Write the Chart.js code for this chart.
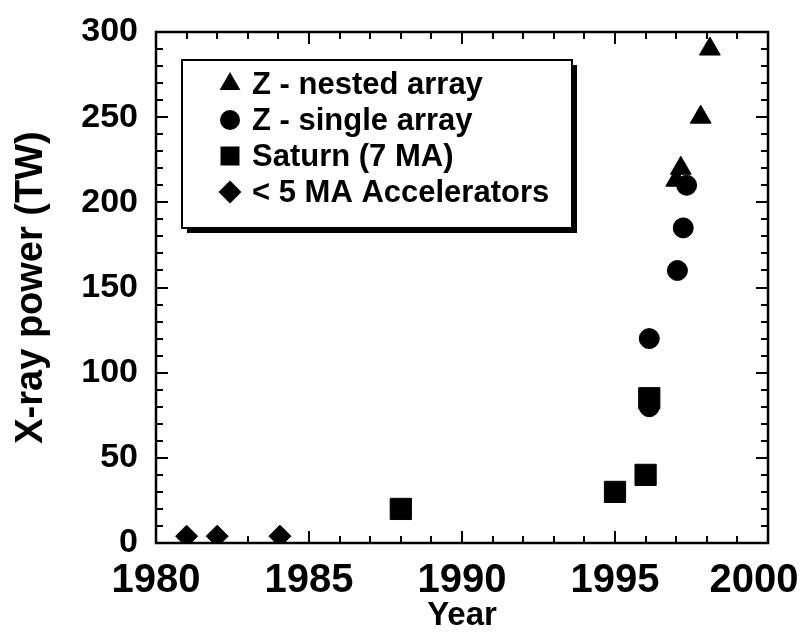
<!DOCTYPE html>
<html><head><meta charset="utf-8">
<style>html,body{margin:0;padding:0;background:#fff;}#wrap{width:800px;height:632px;position:relative;}</style>
<script src="https://cdn.jsdelivr.net/npm/chart.js@4.4.1/dist/chart.umd.min.js"></script>
</head><body><div id="wrap"><canvas id="c" width="800" height="632"></canvas></div>
<script>
const seriesNames = ['Z - nested array', 'Z - single array', 'Saturn (7 MA)', '< 5 MA Accelerators'];
const nestedYears = [1997.0, 1997.15, 1997.8, 1998.1];
const nestedPower = [213, 220, 250, 290];
const singleYears = [1996.12, 1996.12, 1997.04, 1997.23, 1997.34];
const singlePower = [80, 120, 160, 185, 210];
const saturnYears = [1988.0, 1995.0, 1996.0, 1996.12];
const saturnPower = [20, 30, 40, 85];
const smallYears = [1981.0, 1982.0, 1984.05];
const smallPower = [4, 4, 4];
const xTickValues = [1980, 1985, 1990, 1995, 2000];
const yTickValues = [0, 50, 100, 150, 200, 250, 300];

const FONT = "'Liberation Sans', Arial, Helvetica, sans-serif";
const toPts = (xs, ys) => xs.map((x, i) => ({x: x, y: ys[i]}));

const styles = [
  {pointStyle: 'triangle', radius: 12, legendRadius: 10},
  {pointStyle: 'circle', radius: 10, legendRadius: 9},
  {pointStyle: 'rect', radius: 15, legendRadius: 12},
  {pointStyle: 'rectRot', radius: 11, legendRadius: 10}
];
const seriesData = [
  toPts(nestedYears, nestedPower),
  toPts(singleYears, singlePower),
  toPts(saturnYears, saturnPower),
  toPts(smallYears, smallPower)
];

const datasets = seriesNames.map((name, i) => ({
  label: name,
  data: seriesData[i],
  pointStyle: styles[i].pointStyle,
  pointRadius: styles[i].radius,
  pointHoverRadius: styles[i].radius,
  backgroundColor: '#000',
  borderColor: '#000',
  borderWidth: 1,
  showLine: false,
  order: i
}));

const framePlugin = {
  id: 'frameTicks',
  beforeDatasetsDraw(chart) {
    const {ctx, chartArea: a, scales} = chart;
    const xs = scales.x, ys = scales.y;
    ctx.save();
    ctx.strokeStyle = '#000';
    ctx.lineWidth = 2.5;
    ctx.strokeRect(a.left, a.top, a.right - a.left, a.bottom - a.top);
    ctx.lineWidth = 2;
    ctx.beginPath();
    for (let yr = xs.min; yr <= xs.max; yr += 1) {
      const px = Math.round(xs.getPixelForValue(yr));
      const len = (yr % 5 === 0) ? 12 : 7;
      ctx.moveTo(px, a.bottom); ctx.lineTo(px, a.bottom - len);
      ctx.moveTo(px, a.top); ctx.lineTo(px, a.top + len);
    }
    for (let v = ys.min; v <= ys.max; v += 10) {
      const py = Math.round(ys.getPixelForValue(v));
      const len = (v % 50 === 0) ? 12 : 7;
      ctx.moveTo(a.left, py); ctx.lineTo(a.left + len, py);
      ctx.moveTo(a.right, py); ctx.lineTo(a.right - len, py);
    }
    ctx.stroke();
    ctx.restore();
  }
};

const legendPlugin = {
  id: 'boxLegend',
  afterDraw(chart) {
    const ctx = chart.ctx;
    const bx = 182, by = 60, bw = 390, bh = 168, sh = 5;
    ctx.save();
    ctx.fillStyle = '#000';
    ctx.fillRect(bx + sh, by + sh, bw, bh);
    ctx.fillStyle = '#fff';
    ctx.fillRect(bx, by, bw, bh);
    ctx.strokeStyle = '#000';
    ctx.lineWidth = 2;
    ctx.strokeRect(bx, by, bw, bh);
    ctx.font = "bold 31px " + FONT;
    ctx.textBaseline = 'middle';
    ctx.textAlign = 'left';
    chart.data.datasets.forEach((ds, i) => {
      const cy = 84 + i * 36;
      ctx.fillStyle = '#000';
      ctx.strokeStyle = '#000';
      Chart.helpers.drawPoint(ctx, {pointStyle: ds.pointStyle, radius: styles[i].legendRadius, rotation: 0, borderWidth: 1}, 230, cy);
      ctx.fillStyle = '#000';
      ctx.fillText(ds.label, 252, cy + 1);
    });
    ctx.restore();
  }
};

new Chart(document.getElementById('c'), {
  type: 'scatter',
  data: {datasets: datasets},
  plugins: [framePlugin, legendPlugin],
  options: {
    responsive: false,
    devicePixelRatio: 1,
    animation: false,
    layout: {padding: {top: 32, right: 32, left: 0, bottom: 0}},
    plugins: {legend: {display: false}, tooltip: {enabled: false}},
    scales: {
      x: {
        type: 'linear', min: 1980, max: 2000,
        afterBuildTicks(s) { s.ticks = xTickValues.map(v => ({value: v})); },
        afterFit(s) { s.height = 89; s.paddingLeft = 0; s.paddingRight = 0; },
        grid: {display: false, drawTicks: false}, border: {display: false},
        ticks: {color: '#000', padding: 14, maxRotation: 0,
          callback: v => (v === xTickValues[xTickValues.length - 1] ? String(v) + '\u2002\u2009' : String(v)),
          font: {family: FONT, size: 40, weight: 'bold'}},
        title: {display: true, text: 'Year', color: '#000', padding: {top: 0, bottom: 0}, font: {family: FONT, size: 33, weight: 'bold', lineHeight: 1.0}}
      },
      y: {
        type: 'linear', min: 0, max: 300,
        afterBuildTicks(s) { s.ticks = yTickValues.map(v => ({value: v})); },
        afterFit(s) { s.width = 156; s.paddingTop = 0; s.paddingBottom = 0; },
        grid: {display: false, drawTicks: false}, border: {display: false},
        ticks: {color: '#000', padding: 18, callback: v => String(v), font: {family: FONT, size: 34, weight: 'bold'}},
        title: {display: true, text: 'X-ray power (TW)', color: '#000', padding: {top: 9, bottom: 0}, font: {family: FONT, size: 38, weight: 'bold'}}
      }
    }
  }
});
</script></body></html>
